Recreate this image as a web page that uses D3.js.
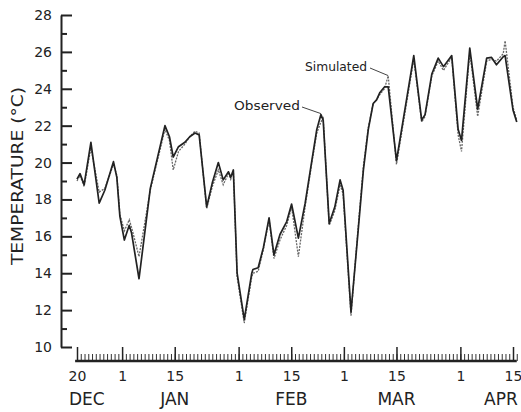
<!DOCTYPE html>
<html><head><meta charset="utf-8">
<script src="https://cdn.jsdelivr.net/npm/d3@7"></script>
<style>
html,body{margin:0;padding:0;background:#fff;}
svg{display:block;}
text{font-family:"DejaVu Sans",sans-serif;fill:#222;}
</style></head>
<body><svg id="c" width="521" height="412"></svg>
<script>
// Day offsets from 20 December
const days = [0,0.8,1.9,3.7,5.9,7.4,9.7,10.6,11.4,12.6,13.9,14.5,16.5,19.5,23.4,24.6,25.6,27,28.7,30,31.4,32.5,34.5,36,37.6,38.9,40.3,40.9,41.6,42.6,44.5,46.5,46.8,48.2,49.6,51.1,52.4,54,55.8,57.1,58.9,60.7,62.4,63.8,64.9,65.5,67.1,68.6,70,70.8,72.9,74.8,76.2,77.5,78.8,79.7,80.6,81.8,82.8,85,87.5,89.6,91.7,92.6,94.4,96.1,97.5,99.7,101.4,102.3,104.5,106.6,109,110.3,111.6,113.4,113.9,116,117];
const observed = [19.1,19.4,18.8,21.1,17.8,18.5,20.05,19.2,17.1,15.8,16.6,16.2,13.7,18.6,22.0,21.4,20.3,20.86,21.1,21.4,21.6,21.5,17.6,18.9,20.0,19.06,19.5,19.2,19.6,14.0,11.5,14.0,14.2,14.3,15.4,17.0,15.0,16.1,16.8,17.75,15.9,17.8,20.0,21.8,22.6,22.3,16.7,17.6,19.06,18.5,11.9,16.3,19.6,21.8,23.2,23.4,23.8,24.1,24.1,20.1,23.2,25.8,22.3,22.6,24.8,25.66,25.2,25.8,21.8,21.2,26.2,22.9,25.66,25.7,25.3,25.74,25.8,22.85,22.2];
const simulated = [19.0,19.3,18.7,20.8,18.4,18.6,19.9,19.3,17.2,16.3,16.9,16.5,14.9,18.5,21.8,21.2,19.6,20.6,21.0,21.4,21.7,21.6,17.5,18.7,19.6,18.8,19.4,19.1,19.6,13.8,11.3,13.8,14.0,14.1,15.3,16.9,14.8,15.8,16.6,17.6,14.9,17.6,19.9,21.6,22.2,22.4,16.6,17.4,18.8,18.3,11.7,16.5,19.8,21.9,23.2,23.4,23.7,24.0,24.7,19.9,23.0,25.6,22.2,22.5,24.7,25.5,25.0,25.7,21.5,20.6,26.0,22.5,25.5,25.6,25.5,25.9,26.6,23.0,22.3];
const yTicks = [10,12,14,16,18,20,22,24,26,28];
const yMinor = [11,13,15,17,19,21,23,25,27];
const dateTicks = [0,12,26,43,57,71,85,102,116];
const dateLabels = ["20","1","15","1","15","1","15","1","15"];
const months = ["DEC","JAN","FEB","MAR","APR"];
const monthPos = [2.6,26,57,85,112.8];

const svg = d3.select("#c");
const x = d3.scaleLinear().domain([0,116]).range([77,513]);
const y = d3.scaleLinear().domain([10,28]).range([347,15]);

// Y axis
const ya = svg.append("g").attr("transform","translate(61,0)")
  .call(d3.axisLeft(y).tickValues(yTicks).tickSizeInner(-11).tickSizeOuter(0).tickPadding(9).tickFormat(d3.format("d")));
ya.select(".domain").attr("stroke","#222").attr("stroke-width",2);
ya.selectAll(".tick line").attr("stroke","#222").attr("stroke-width",2);
ya.selectAll(".tick text").style("font-size","14px").attr("fill","#222");
const ym = svg.append("g").attr("transform","translate(61,0)")
  .call(d3.axisLeft(y).tickValues(yMinor).tickSizeInner(-6).tickSizeOuter(0).tickFormat(""));
ym.select(".domain").remove();
ym.selectAll(".tick line").attr("stroke","#222").attr("stroke-width",2);

// X axis
const base = 361;
const dayTicks = d3.range(0,118);
const xm = svg.append("g").attr("transform",`translate(0,${base})`)
  .call(d3.axisBottom(x).tickValues(dayTicks).tickSizeInner(-7).tickSizeOuter(0).tickFormat(""));
xm.select(".domain").remove();
xm.selectAll(".tick line").attr("stroke","#333").attr("stroke-width",1);
const xa = svg.append("g").attr("transform",`translate(0,${base})`)
  .call(d3.axisBottom(x).tickValues(dateTicks).tickSizeInner(-14).tickSizeOuter(0).tickPadding(10)
    .tickFormat((d,i)=>dateLabels[i]));
xa.select(".domain").remove();
xa.selectAll(".tick line").attr("stroke","#222").attr("stroke-width",1.5);
xa.selectAll(".tick text").style("font-size","14px").attr("fill","#222");
svg.append("line").attr("x1",x(-0.5)).attr("x2",x(117)).attr("y1",base).attr("y2",base)
  .attr("stroke","#222").attr("stroke-width",2.5);

svg.append("g").selectAll("text").data(months).join("text")
  .attr("x",(d,i)=>x(monthPos[i])).attr("y",405).attr("text-anchor","middle")
  .style("font-size","17px").text(d=>d);

// Y label
svg.append("text").attr("transform","translate(23,176) rotate(-90)")
  .attr("text-anchor","middle").style("font-size","15.5px")
  .attr("textLength",178).attr("lengthAdjust","spacingAndGlyphs").text("TEMPERATURE (°C)");

// Lines
const line = v => d3.line().x((d,i)=>x(days[i])).y(d=>y(d))(v);
svg.append("path").attr("d",line(simulated)).attr("fill","none")
  .attr("stroke","#666").attr("stroke-width",1.3).attr("stroke-dasharray","2,1.2");
svg.append("path").attr("d",line(observed)).attr("fill","none")
  .attr("stroke","#222").attr("stroke-width",1.7).attr("stroke-linejoin","round");

// Annotations
const ann = [
  {t:"Simulated", tx:367, ty:71, d:82.8, v:24.66, lx:370, ly:68, w:62},
  {t:"Observed", tx:300, ty:110, d:64.9, v:22.6, lx:302, ly:107, w:66}
];
ann.forEach(a=>{
  svg.append("text").attr("x",a.tx).attr("y",a.ty).attr("text-anchor","end")
    .style("font-size","12.5px").attr("textLength",a.w).attr("lengthAdjust","spacingAndGlyphs").text(a.t);
  svg.append("line").attr("x1",a.lx).attr("y1",a.ly).attr("x2",x(a.d)).attr("y2",y(a.v)-1)
    .attr("stroke","#444").attr("stroke-width",1);
});
</script></body></html>
